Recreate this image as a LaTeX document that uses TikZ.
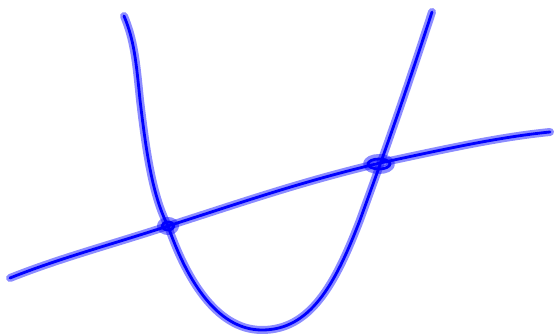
\documentclass[tikz,border=0pt]{standalone}
\begin{document}
\begin{tikzpicture}[x=1pt,y=-1pt,
  halo/.style={draw=blue,opacity=0.45,line width=8pt,line cap=round,line join=round},
  ink/.style={draw=blue,line width=2.8pt,line cap=round,line join=round}]
\useasboundingbox (0,0) rectangle (554,336);
\def\parab{(124,16) .. controls (134,40) and (136,60) .. (140,100) .. controls (146,150) and (152,195) .. (168,226) .. controls (185,275) and (215,330) .. (262,330) .. controls (310,330) and (335,285) .. (360,220) .. controls (380,165) and (400,110) .. (432,12)}
\def\linep{(10,278) .. controls (60,258) and (110,245) .. (168,226) .. controls (240,203) and (300,182) .. (380,163) .. controls (450,148) and (500,137) .. (550,132)}
\path[halo] \parab;
\path[halo] \linep;
\path[halo] (168,226) ellipse (7 and 5);
\path[halo] (379,164) ellipse (12 and 6);
\path[ink] \parab;
\path[ink] \linep;
\path[ink] (168,226) ellipse (6 and 4);
\path[ink] (379,164) ellipse (11 and 5);
\coordinate (p1) at (168,226);
\coordinate (p2) at (379,164);
\end{tikzpicture}
\end{document}
